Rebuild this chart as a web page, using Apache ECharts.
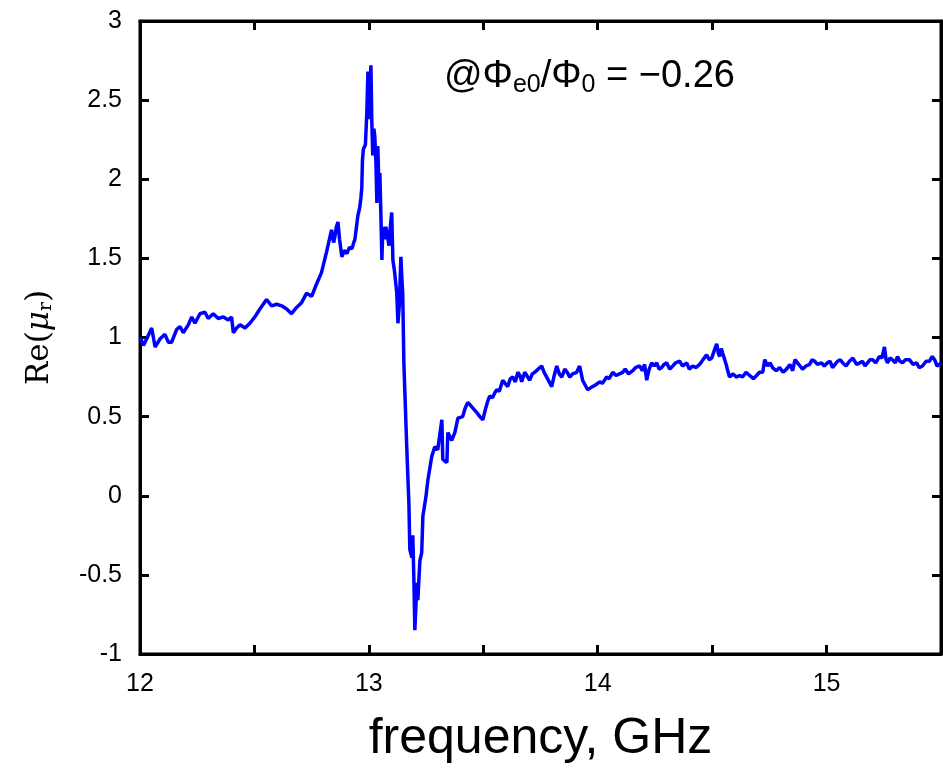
<!DOCTYPE html>
<html>
<head>
<meta charset="utf-8">
<script src="https://cdn.jsdelivr.net/npm/echarts@6/dist/echarts.min.js"></script>
<style>html,body{margin:0;padding:0;background:#fff;}#c{width:943px;height:769px;}</style>
</head>
<body>
<div id="c"></div>
<script>
const freq = [
12.000,12.007,12.015,12.029,12.051,12.066,12.087,12.109,12.124,12.138,12.160,12.175,12.189,12.211,12.226,12.240,12.262,12.284,12.298,12.320,
12.342,12.364,12.386,12.400,12.408,12.422,12.437,12.459,12.480,12.502,12.524,12.553,12.575,12.597,12.619,12.641,12.662,12.684,12.706,12.728,
12.750,12.772,12.793,12.815,12.837,12.846,12.852,12.858,12.865,12.872,12.882,12.893,12.904,12.915,12.926,12.934,12.939,12.946,12.952,12.960,
12.965,12.969,12.972,12.976,12.985,12.991,12.996,13.002,13.006,13.009,13.013,13.017,13.022,13.026,13.031,13.035,13.039,13.044,13.048,13.053,
13.057,13.061,13.068,13.074,13.079,13.088,13.095,13.100,13.105,13.112,13.122,13.127,13.133,13.140,13.145,13.148,13.153,13.157,13.166,13.175,
13.179,13.188,13.192,13.197,13.201,13.210,13.214,13.223,13.231,13.236,13.249,13.258,13.275,13.288,13.301,13.319,13.323,13.341,13.345,13.362,
13.376,13.389,13.410,13.420,13.432,13.445,13.463,13.475,13.485,13.498,13.510,13.520,13.528,13.540,13.550,13.559,13.570,13.585,13.595,13.607,
13.618,13.629,13.640,13.651,13.660,13.668,13.681,13.690,13.703,13.714,13.725,13.740,13.755,13.766,13.777,13.788,13.799,13.810,13.821,13.832,
13.843,13.856,13.867,13.878,13.890,13.908,13.921,13.934,13.945,13.956,13.967,13.978,13.990,14.009,14.020,14.039,14.050,14.066,14.080,14.095,
14.109,14.120,14.135,14.153,14.165,14.183,14.195,14.205,14.214,14.225,14.236,14.247,14.258,14.268,14.279,14.290,14.301,14.315,14.328,14.340,
14.358,14.370,14.389,14.400,14.415,14.430,14.445,14.460,14.476,14.487,14.498,14.510,14.520,14.527,14.533,14.540,14.546,14.555,14.563,14.570,
14.576,14.590,14.607,14.620,14.633,14.648,14.664,14.680,14.694,14.707,14.721,14.730,14.742,14.753,14.764,14.780,14.795,14.810,14.825,14.840,
14.852,14.862,14.873,14.884,14.895,14.910,14.926,14.937,14.948,14.960,14.978,14.990,15.004,15.015,15.026,15.037,15.048,15.060,15.070,15.085,
15.100,15.115,15.131,15.145,15.157,15.168,15.179,15.190,15.201,15.215,15.231,15.242,15.253,15.260,15.266,15.277,15.288,15.300,15.310,15.320,
15.332,15.345,15.362,15.378,15.393,15.405,15.419,15.435,15.450,15.462,15.472,15.483,15.493,15.500
];
const reMu = [
1.00,0.98,0.95,0.99,1.06,0.94,0.99,1.02,0.97,0.97,1.05,1.07,1.03,1.08,1.13,1.09,1.15,1.16,1.12,1.15,
1.12,1.13,1.11,1.13,1.03,1.06,1.08,1.06,1.09,1.13,1.18,1.24,1.20,1.21,1.20,1.18,1.15,1.19,1.22,1.28,
1.26,1.34,1.41,1.54,1.68,1.60,1.64,1.70,1.73,1.62,1.51,1.55,1.53,1.57,1.56,1.60,1.62,1.70,1.77,1.82,
1.88,1.94,2.12,2.19,2.22,2.42,2.68,2.38,2.60,2.72,2.36,2.15,2.32,2.27,2.10,1.85,2.21,1.95,2.04,1.75,
1.49,1.70,1.62,1.70,1.66,1.58,1.72,1.79,1.49,1.42,1.28,1.09,1.20,1.51,1.35,1.28,0.84,0.67,0.29,-0.05,
-0.34,-0.39,-0.25,-0.55,-0.85,-0.55,-0.66,-0.41,-0.36,-0.13,-0.01,0.10,0.25,0.31,0.29,0.48,0.23,0.21,0.40,0.35,
0.40,0.49,0.50,0.55,0.59,0.57,0.54,0.52,0.50,0.48,0.55,0.60,0.63,0.62,0.65,0.67,0.66,0.73,0.71,0.69,
0.74,0.75,0.72,0.78,0.76,0.72,0.78,0.76,0.73,0.77,0.78,0.80,0.82,0.78,0.75,0.72,0.69,0.76,0.82,0.77,
0.75,0.80,0.78,0.75,0.77,0.78,0.82,0.73,0.70,0.67,0.68,0.69,0.70,0.72,0.71,0.75,0.74,0.78,0.76,0.77,
0.78,0.80,0.77,0.79,0.81,0.82,0.79,0.83,0.73,0.80,0.84,0.82,0.84,0.80,0.81,0.83,0.84,0.80,0.82,0.84,
0.85,0.82,0.84,0.80,0.82,0.81,0.83,0.86,0.89,0.86,0.87,0.92,0.96,0.90,0.88,0.93,0.90,0.86,0.82,0.78,
0.75,0.77,0.75,0.76,0.75,0.78,0.76,0.74,0.76,0.78,0.78,0.86,0.82,0.84,0.81,0.79,0.81,0.78,0.80,0.83,
0.79,0.86,0.84,0.82,0.80,0.82,0.83,0.86,0.85,0.83,0.84,0.82,0.84,0.85,0.81,0.83,0.85,0.86,0.84,0.82,
0.85,0.87,0.83,0.84,0.85,0.82,0.84,0.86,0.86,0.84,0.88,0.87,0.94,0.86,0.84,0.87,0.86,0.84,0.88,0.85,
0.84,0.86,0.86,0.83,0.84,0.81,0.82,0.85,0.85,0.88,0.86,0.82,0.83,0.84
];
const xTicks = [12, 13, 14, 15];
const yTicks = [-1, -0.5, 0, 0.5, 1, 1.5, 2, 2.5, 3];

const pts = freq.map((f, i) => [f, reMu[i]]);
const chart = echarts.init(document.getElementById('c'));
const tickStyle = {show: true, inside: true, length: 9, lineStyle: {color: '#000', width: 3}};
const font = 'Liberation Sans, Arial, sans-serif';
const serif = 'DejaVu Serif, Liberation Serif, serif';
chart.setOption({
  animation: false,
  grid: {left: 140, top: 21, width: 801, height: 633, show: true, borderColor: '#000', borderWidth: 3,
    containLabel: false, outerBoundsMode: 'none'},
  xAxis: [{
    type: 'value', min: 12, max: 15.5, interval: 0.5,
    axisLine: {show: true, onZero: false, lineStyle: {color: '#000', width: 3}},
    axisTick: tickStyle, splitLine: {show: false},
    axisLabel: {color: '#000', fontSize: 25, fontFamily: font, margin: 18,
      formatter: v => xTicks.indexOf(v) >= 0 ? String(v) : ''},
    name: 'frequency, GHz', nameLocation: 'middle', nameGap: 60,
    nameTextStyle: {color: '#000', fontSize: 50, fontFamily: font}
  }, {
    type: 'value', min: 12, max: 15.5, interval: 0.5, position: 'top',
    axisLine: {show: true, onZero: false, lineStyle: {color: '#000', width: 3}},
    axisTick: tickStyle, axisLabel: {show: false}, splitLine: {show: false}
  }],
  yAxis: [{
    type: 'value', min: -1, max: 3, interval: 0.5,
    axisLine: {show: true, onZero: false, lineStyle: {color: '#000', width: 3}},
    axisTick: tickStyle, splitLine: {show: false},
    axisLabel: {color: '#000', fontSize: 25, fontFamily: font, margin: 18,
      formatter: v => yTicks.indexOf(v) >= 0 ? String(v) : ''},
    name: '{a|Re(}{b|μ}{s|r}{a|)}', nameLocation: 'middle', nameGap: 84, nameRotate: 90,
    nameTextStyle: {color: '#000', rich: {
      a: {fontSize: 31, fontFamily: serif, color: '#000'},
      b: {fontSize: 31, fontFamily: serif, fontStyle: 'italic', color: '#000'},
      s: {fontSize: 19, fontFamily: serif, color: '#000', padding: [14, 0, 0, 0]}
    }}
  }, {
    type: 'value', min: -1, max: 3, interval: 0.5, position: 'right',
    axisLine: {show: true, onZero: false, lineStyle: {color: '#000', width: 3}},
    axisTick: tickStyle, axisLabel: {show: false}, splitLine: {show: false}
  }],
  graphic: [{
    type: 'text', left: 444, top: 58,
    style: {
      text: '{m|@Φ}{s|e0}{m|/Φ}{s|0}{m| = −0.26}',
      rich: {
        m: {fontSize: 38, fontFamily: font, fill: '#000', color: '#000'},
        s: {fontSize: 25, fontFamily: font, fill: '#000', color: '#000', padding: [16, 0, 0, 0]}
      }
    }
  }],
  series: [{
    type: 'line', data: pts, xAxisIndex: 0, yAxisIndex: 0,
    showSymbol: false, symbol: 'none',
    lineStyle: {color: '#0000ff', width: 3.5}
  }]
});
</script>
</body>
</html>
